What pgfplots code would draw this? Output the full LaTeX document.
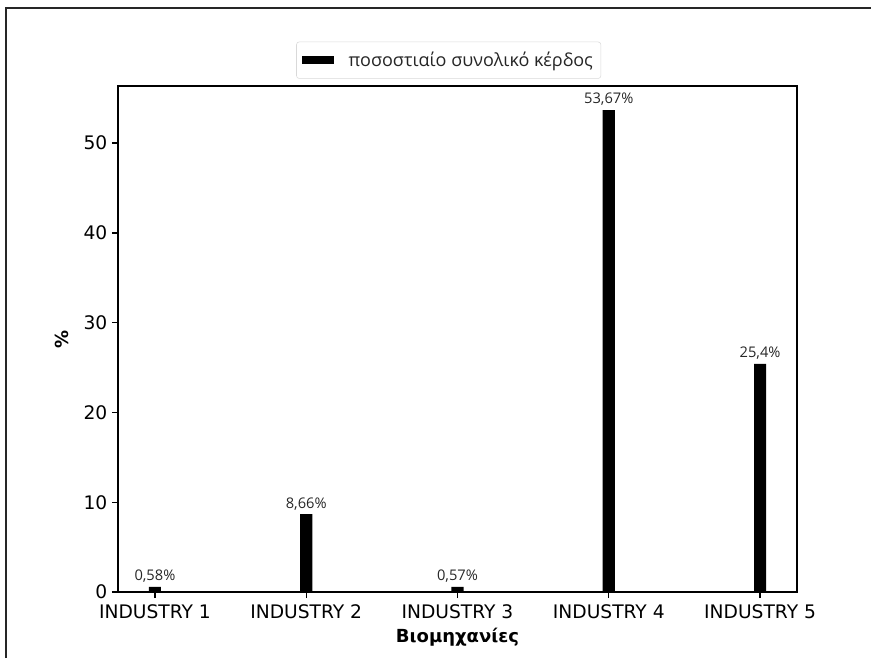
\documentclass[border=0pt]{standalone}
\usepackage{fontspec}
\setmainfont{DejaVu Sans}
\newfontfamily\legfont{Open Sans}
\usepackage{pgfplots}
\pgfplotsset{compat=1.18}
\begin{document}
\begin{tikzpicture}
\useasboundingbox (0,0) rectangle (653.25pt,-493.5pt);
\draw[line width=1.4pt, black!85] (4.5pt,-493.5pt) -- (4.5pt,-6pt) -- (653.25pt,-6pt);
\begin{axis}[
  at={(88.5pt,-64.5pt)}, anchor=north west,
  scale only axis, width=509.25pt, height=379.5pt,
  xmin=-0.244, xmax=4.244, ymin=0, ymax=56.35,
  xtick={0,1,2,3,4},
  xticklabels={INDUSTRY 1,INDUSTRY 2,INDUSTRY 3,INDUSTRY 4,INDUSTRY 5},
  ytick={0,10,20,30,40,50},
  tick align=outside, tick pos=left,
  major tick length=4.5pt,
  every tick/.style={black, line width=1.05pt},
  axis line style={line width=1.05pt},
  tick label style={font=\fontsize{14}{16}\selectfont},
  xticklabel style={yshift=-1.5pt},
  /pgf/number format/assume math mode=true,
  xlabel={\textbf{Βιομηχανίες}},
  ylabel={\textbf{\%}},
  label style={font=\fontsize{13.5}{16}\selectfont},
  xlabel style={at={(axis description cs:0.5,-0.09)}, anchor=center},
  ylabel style={at={(axis description cs:-0.0825,0.5)}, anchor=center},
  ybar, bar width=0.08, bar shift=0pt,
  nodes near coords,
  point meta=explicit symbolic,
  nodes near coords style={font=\legfont\fontsize{11}{12}\selectfont, inner sep=0pt, anchor=south, yshift=3pt, black!85},
  legend style={at={(0.487,1.051)}, anchor=center, draw=black!15, rounded corners=2pt,
    font=\legfont\fontsize{13.5}{16}\selectfont, inner xsep=4pt, inner ysep=5.5pt, text=black!85},
  legend image code/.code={\fill[black, sharp corners] (0pt,-3pt) rectangle (24pt,3pt); \path (33pt,0pt);},
]
\addplot[fill=black, draw=none] coordinates {
  (0,0.58) [0,58\%]
  (1,8.66) [8,66\%]
  (2,0.57) [0,57\%]
  (3,53.67) [53,67\%]
  (4,25.4) [25,4\%]
};
\addlegendentry{ποσοστιαίο συνολικό κέρδος}
\end{axis}
\end{tikzpicture}
\end{document}
